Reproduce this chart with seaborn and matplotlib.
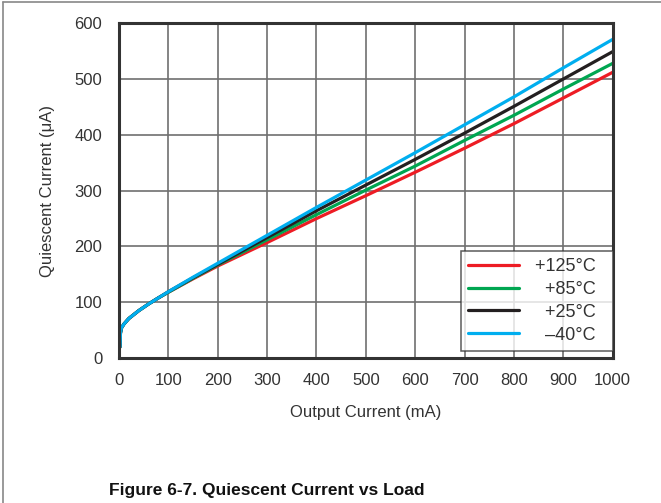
import numpy as np
import pandas as pd
import matplotlib
matplotlib.use("Agg")
import matplotlib.pyplot as plt
import seaborn as sns
from matplotlib.lines import Line2D

# ---- data ----
load_ma = [2, 3, 5, 10, 20, 40, 60, 80, 100, 150, 200, 300, 400, 500, 600, 700, 800, 900, 1000]
iq_125 = [20, 45, 54, 61, 71, 85, 97, 108, 118, 142, 165, 207, 250, 291, 333, 376, 420, 466, 512]
iq_85 = [20, 45, 54, 61, 71, 85, 97, 108, 118, 143, 167, 212, 257, 301, 344, 390, 435, 482, 528]
iq_25 = [20, 45, 54, 61, 71, 85, 97, 108, 119, 144, 168, 216, 264, 310, 356, 403, 451, 500, 549]
iq_m40 = [20, 45, 54, 61, 71, 85, 97, 108, 119, 145, 170, 220, 270, 319, 368, 418, 468, 520, 571]
series_labels = ["+125°C", "+85°C", "+25°C", "\u201340°C"]
series_colors = ["#ED1C24", "#00A651", "#231F20", "#00AEEF"]
x_ticks = [0, 100, 200, 300, 400, 500, 600, 700, 800, 900, 1000]
y_ticks = [0, 100, 200, 300, 400, 500, 600]

frames = []
for lab, vals in zip(series_labels, [iq_125, iq_85, iq_25, iq_m40]):
    frames.append(pd.DataFrame({"load": load_ma, "iq": vals, "temp": lab}))
df = pd.concat(frames, ignore_index=True)

sns.set_theme(style="white")
plt.rcParams["font.family"] = ["Liberation Sans", "DejaVu Sans"]

fig = plt.figure(figsize=(6.61, 5.03), dpi=100)
ax = fig.add_axes([0.180, 0.288, 0.747, 0.666])

sns.lineplot(data=df, x="load", y="iq", hue="temp", hue_order=series_labels,
             palette=series_colors, linewidth=2.3, ax=ax, legend=False,
             estimator=None, sort=False)

ax.set_xlim(0, 1000)
ax.set_ylim(0, 600)
ax.set_xticks(x_ticks)
ax.set_yticks(y_ticks)
ax.grid(True, color="#707070", linewidth=1.2)
ax.set_axisbelow(True)
for s in ax.spines.values():
    s.set_color("#333333")
    s.set_linewidth(2.2)
    s.set_visible(True)
ax.tick_params(axis="both", length=0, pad=12, labelsize=12, colors="#333333")
ax.tick_params(axis="x", pad=11)
ax.set_xlabel("Output Current (mA)", fontsize=12, color="#333333", labelpad=12)
ax.set_ylabel("Quiescent Current (\u03bcA)", fontsize=12, color="#333333", labelpad=14)

# legend with right-aligned labels
pad = ["", "\u2007", "\u2007", "\u2007"]
handles = [Line2D([0], [0], color=c, linewidth=2.3) for c in series_colors]
leg = ax.legend(handles, [p + l + "\u2007" for p, l in zip(pad, series_labels)],
                loc="lower right", bbox_to_anchor=(1.0, 0.022),
                frameon=True, fancybox=False, fontsize=13,
                handlelength=2.8, handletextpad=0.9, labelspacing=0.32,
                borderpad=0.4, borderaxespad=0.0)
leg.get_frame().set_edgecolor("#333333")
leg.get_frame().set_linewidth(1.1)
for t in leg.get_texts():
    t.set_color("#333333")

fig.text(0.404, 0.01, "Figure 6-7. Quiescent Current vs Load", ha="center",
         va="bottom", fontsize=12.5, fontweight="bold", color="#111111")

# figure border (left and top)
fig.add_artist(Line2D([0.005, 0.005], [0, 0.996], transform=fig.transFigure,
                      color="#888888", linewidth=1.2))
fig.add_artist(Line2D([0.005, 1.0], [0.996, 0.996], transform=fig.transFigure,
                      color="#888888", linewidth=1.2))

fig.savefig("out.png", dpi=100)
